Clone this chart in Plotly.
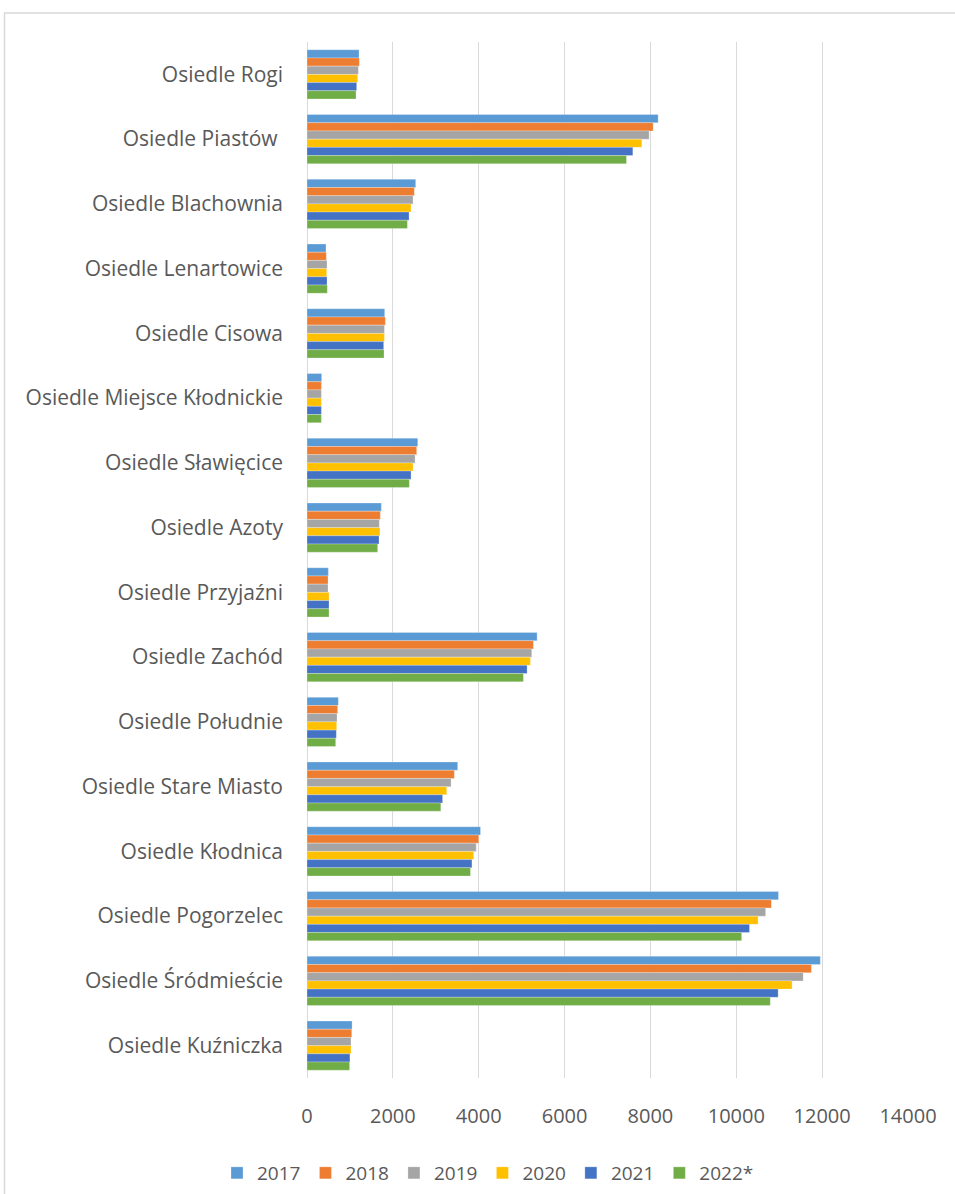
import plotly.graph_objects as go

categories = [
    "Osiedle Rogi",
    "Osiedle Piastów\u00a0",
    "Osiedle Blachownia",
    "Osiedle Lenartowice",
    "Osiedle Cisowa",
    "Osiedle Miejsce Kłodnickie",
    "Osiedle Sławięcice",
    "Osiedle Azoty",
    "Osiedle Przyjaźni",
    "Osiedle Zachód",
    "Osiedle Południe",
    "Osiedle Stare Miasto",
    "Osiedle Kłodnica",
    "Osiedle Pogorzelec",
    "Osiedle Śródmieście",
    "Osiedle Kuźniczka",
]

years = ["2017", "2018", "2019", "2020", "2021", "2022*"]

v2017 = [1212, 8180, 2532, 443, 1810, 342, 2580, 1732, 497, 5360, 730, 3510, 4042, 10983, 11958, 1050]
v2018 = [1219, 8063, 2500, 450, 1825, 335, 2555, 1708, 489, 5274, 714, 3432, 4000, 10817, 11750, 1042]
v2019 = [1196, 7970, 2470, 466, 1802, 335, 2517, 1685, 489, 5235, 699, 3356, 3942, 10683, 11558, 1025]
v2020 = [1180, 7800, 2423, 458, 1802, 335, 2470, 1700, 513, 5204, 691, 3254, 3883, 10508, 11300, 1025]
v2021 = [1157, 7590, 2377, 466, 1786, 335, 2423, 1677, 513, 5127, 683, 3158, 3842, 10308, 10975, 1000]
v2022 = [1142, 7442, 2338, 473, 1794, 335, 2384, 1646, 513, 5041, 668, 3117, 3808, 10125, 10792, 992]

series = [v2017, v2018, v2019, v2020, v2021, v2022]
colors = ["#5B9BD5", "#ED7D31", "#A5A5A5", "#FFC000", "#4472C4", "#70AD47"]

x_ticks = [0, 2000, 4000, 6000, 8000, 10000, 12000, 14000]

W, H = 955, 1194
ML, MR, MT, MB = 307, 47, 42, 116
PW = W - ML - MR
PH = H - MT - MB

fig = go.Figure()
for name, vals, col in zip(years, series, colors):
    fig.add_trace(go.Bar(
        y=categories, x=vals, name=name, orientation="h",
        marker=dict(color=col, line=dict(color="rgba(255,255,255,0.5)", width=0.5)),
    ))

font_family = "Open Sans"
txt_col = "#595959"

fig.update_layout(
    width=W, height=H,
    margin=dict(l=ML, r=MR, t=MT, b=MB, pad=0, autoexpand=False),
    paper_bgcolor="white", plot_bgcolor="white",
    barmode="group", bargap=0.24, bargroupgap=0,
    font=dict(family=font_family, size=20, color=txt_col),
    xaxis=dict(
        range=[0, 14000], tickvals=x_ticks, ticktext=[str(t) for t in x_ticks],
        showgrid=True, gridcolor="#d9d9d9", gridwidth=1.3,
        zeroline=True, zerolinecolor="#d9d9d9", zerolinewidth=1.3,
        showline=False, ticks="", ticklabelstandoff=24, automargin=False,
        tickfont=dict(family=font_family, size=20, color=txt_col),
        fixedrange=True,
    ),
    yaxis=dict(
        autorange="reversed", showgrid=False, showline=False, ticks="",
        ticklabelstandoff=23, automargin=False,
        tickfont=dict(family=font_family, size=21, color=txt_col),
        fixedrange=True,
    ),
    legend=dict(
        orientation="h", x=(488 - ML) / PW, xanchor="center",
        y=(MT + PH - 1173) / PH, yanchor="middle",
        font=dict(family=font_family, size=19, color=txt_col),
        itemwidth=30, traceorder="normal",
        bgcolor="rgba(0,0,0,0)",
    ),
    showlegend=True,
)

# outer chart border (extends beyond the visible canvas on right and bottom)
fig.add_shape(
    type="rect", xref="paper", yref="paper",
    x0=(4.5 - ML) / PW, x1=(W + 400 - ML) / PW,
    y0=(MT + PH - (H + 400)) / PH, y1=(MT + PH - 13) / PH,
    line=dict(color="#d9d9d9", width=1.5), fillcolor="rgba(0,0,0,0)",
    layer="below",
)

fig.write_html(
    "out.html",
    config={"displayModeBar": False},
    post_script="document.body.style.margin='0';document.body.style.overflow='hidden';",
)
